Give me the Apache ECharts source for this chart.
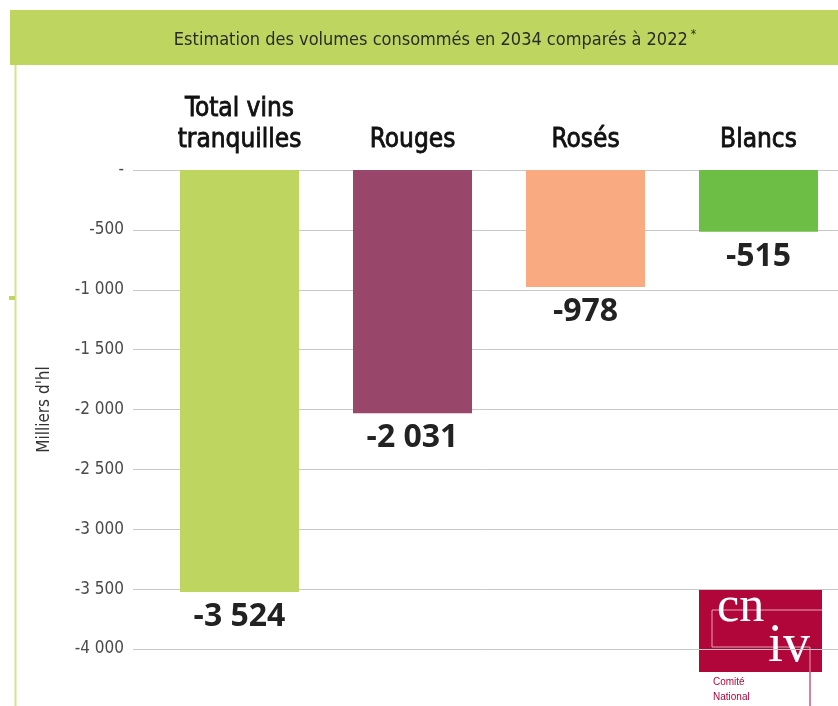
<!DOCTYPE html>
<html>
<head>
<meta charset="utf-8">
<script src="https://cdn.jsdelivr.net/npm/echarts@6/dist/echarts.min.js"></script>
<style>
  html, body { margin: 0; padding: 0; background: #fff; }
  #main { width: 838px; height: 706px; }
</style>
</head>
<body>
<div id="main"></div>
<script>
// donnees
const categories = ['Total vins\ntranquilles', 'Rouges', 'Rosés', 'Blancs'];
const values = [-3524, -2031, -978, -515];
const barColors = ['#bed660', '#98466a', '#f9aa80', '#6dbe45'];
const yMin = -4000;
const yMax = 0;
const yStep = 500;

const narrow = "'Liberation Sans Narrow', 'DejaVu Sans Condensed', sans-serif";

// "-1 000" avec espace pour les milliers, "-" pour zero
const fmt = (v) => {
  if (v === 0) return '-';
  const s = String(Math.abs(v)).replace(/\B(?=(\d{3})+(?!\d))/g, ' ');
  return (v < 0 ? '-' : '') + s;
};

const myChart = echarts.init(document.getElementById('main'));

const option = {
  backgroundColor: '#fff',
  animation: false,
  title: {
    text: 'Estimation des volumes consommés en 2034 comparés à 2022{s|*}',
    left: 430,
    top: 24,
    textAlign: 'center',
    textStyle: {
      fontFamily: narrow,
      fontSize: 18,
      fontWeight: 'normal',
      color: '#2b2b2b',
      rich: {
        s: { fontSize: 12, verticalAlign: 'top', padding: [0, 0, 10, 3], color: '#2b2b2b' }
      }
    }
  },
  grid: [
    // grille pour les lignes horizontales et les graduations
    { left: 133, right: 0, top: 170, bottom: 57 },
    // grille pour les barres (depasse un peu a droite)
    { left: 153, right: -7, top: 170, bottom: 57, outerBoundsMode: 'none' }
  ],
  xAxis: [
    { type: 'category', gridIndex: 0, data: categories, show: false },
    {
      type: 'category',
      gridIndex: 1,
      data: categories,
      position: 'top',
      axisLine: { show: false },
      axisTick: { show: false },
      axisLabel: {
        margin: 14,
        fontFamily: narrow,
        fontSize: 26,
        lineHeight: 31,
        color: '#111',
        textBorderColor: '#111',
        textBorderWidth: 0.8
      }
    }
  ],
  yAxis: [
    {
      type: 'value',
      gridIndex: 0,
      min: yMin,
      max: yMax,
      interval: yStep,
      name: "Milliers d'hl",
      nameLocation: 'middle',
      nameGap: 80,
      nameRotate: 90,
      nameTextStyle: { fontFamily: narrow, fontSize: 17, color: '#333' },
      axisLine: { show: false },
      axisTick: { show: false },
      axisLabel: {
        margin: 9,
        fontFamily: narrow,
        fontSize: 17,
        color: '#4a4a4a',
        formatter: fmt
      },
      splitLine: { lineStyle: { color: '#c8c8c8', width: 1 } }
    },
    {
      type: 'value',
      gridIndex: 1,
      min: yMin,
      max: yMax,
      interval: yStep,
      show: false,
      splitLine: { show: false }
    }
  ],
  series: [
    {
      type: 'bar',
      xAxisIndex: 1,
      yAxisIndex: 1,
      barWidth: 119,
      data: values.map((v, i) => ({ value: v, itemStyle: { color: barColors[i] } })),
      label: {
        show: true,
        position: 'bottom',
        distance: 9,
        formatter: (p) => fmt(p.value),
        fontFamily: "'Open Sans', sans-serif",
        fontWeight: 'bold',
        fontSize: 32,
        color: '#222'
      }
    }
  ],
  graphic: [
    // bandeau du titre
    { type: 'rect', z: -10, shape: { x: 10, y: 10, width: 828, height: 55 }, style: { fill: '#bed660' } },
    // bordure gauche
    { type: 'line', z: -10, shape: { x1: 15.5, y1: 65, x2: 15.5, y2: 706 }, style: { stroke: '#d4e48e', lineWidth: 2 } },
    { type: 'rect', z: -10, shape: { x: 9, y: 296, width: 6, height: 4 }, style: { fill: '#bed660' } },
    // logo cniv
    {
      type: 'group',
      z: 100,
      children: [
        { type: 'rect', shape: { x: 699, y: 589, width: 123, height: 83 }, style: { fill: '#b0063a' } },
        {
          type: 'polyline',
          shape: { points: [[822, 610], [712, 610], [712, 647], [810, 647], [810, 672]] },
          style: { stroke: '#e7a3b5', lineWidth: 1, fill: null }
        },
        { type: 'line', shape: { x1: 810, y1: 672, x2: 810, y2: 706 }, style: { stroke: '#b0063a', lineWidth: 1 } },
        {
          type: 'text',
          style: { x: 717, y: 633, text: 'cn', fill: '#fff', verticalAlign: 'bottom', font: '50px "Liberation Serif", "DejaVu Serif", serif' }
        },
        {
          type: 'text',
          style: { x: 768, y: 674, text: 'iv', fill: '#fff', verticalAlign: 'bottom', font: '54px "Liberation Serif", "DejaVu Serif", serif' }
        },
        {
          type: 'text',
          style: { x: 713, y: 677, text: 'Comité', fill: '#b0063a', font: '10px "Liberation Sans", sans-serif' }
        },
        {
          type: 'text',
          style: { x: 713, y: 692, text: 'National', fill: '#b0063a', font: '10px "Liberation Sans", sans-serif' }
        }
      ]
    }
  ]
};

myChart.setOption(option);
</script>
</body>
</html>
